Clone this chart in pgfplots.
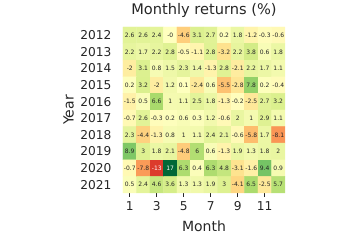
\documentclass[border=0pt]{standalone}
\usepackage{pgfplots}
\pgfplotsset{compat=1.18}
\usepackage{pgfplotstable}
\usepackage{fontspec}
\setmainfont{DejaVu Sans}
\definecolor{tk}{HTML}{262626}
\pgfplotstableread{
x y v
1 2012 2.6
2 2012 2.6
3 2012 2.4
4 2012 -0
5 2012 -4.6
6 2012 3.1
7 2012 2.7
8 2012 0.2
9 2012 1.8
10 2012 -1.2
11 2012 -0.3
12 2012 -0.6
1 2013 2.2
2 2013 1.7
3 2013 2.2
4 2013 2.8
5 2013 -0.5
6 2013 -1.1
7 2013 2.8
8 2013 -3.2
9 2013 2.2
10 2013 3.8
11 2013 0.6
12 2013 1.8
1 2014 -2
2 2014 3.1
3 2014 0.8
4 2014 1.5
5 2014 2.3
6 2014 1.4
7 2014 -1.3
8 2014 2.8
9 2014 -2.1
10 2014 2.2
11 2014 1.7
12 2014 1.1
1 2015 0.2
2 2015 3.2
3 2015 -2
4 2015 1.2
5 2015 0.1
6 2015 -2.4
7 2015 0.6
8 2015 -5.5
9 2015 -2.8
10 2015 7.8
11 2015 0.2
12 2015 -0.4
1 2016 -1.5
2 2016 0.5
3 2016 6.6
4 2016 1
5 2016 1.1
6 2016 2.5
7 2016 1.8
8 2016 -1.3
9 2016 -0.2
10 2016 -2.5
11 2016 2.7
12 2016 3.2
1 2017 -0.7
2 2017 2.6
3 2017 -0.3
4 2017 0.2
5 2017 0.6
6 2017 0.3
7 2017 1.2
8 2017 -0.6
9 2017 2
10 2017 1
11 2017 2.9
12 2017 1.1
1 2018 2.3
2 2018 -4.4
3 2018 -1.3
4 2018 0.8
5 2018 1
6 2018 1.1
7 2018 2.4
8 2018 2.1
9 2018 -0.6
10 2018 -5.8
11 2018 1.7
12 2018 -8.1
1 2019 8.9
2 2019 3
3 2019 1.8
4 2019 2.1
5 2019 -4.8
6 2019 6
7 2019 0.6
8 2019 -1.3
9 2019 1.9
10 2019 1.3
11 2019 1.8
12 2019 2
1 2020 -0.7
2 2020 -7.8
3 2020 -13
4 2020 17
5 2020 6.3
6 2020 0.4
7 2020 6.3
8 2020 4.8
9 2020 -3.1
10 2020 -1.6
11 2020 9.4
12 2020 0.9
1 2021 0.5
2 2021 2.4
3 2021 4.6
4 2021 3.6
5 2021 1.3
6 2021 1.3
7 2021 1.9
8 2021 3
9 2021 -4.1
10 2021 6.5
11 2021 -2.5
12 2021 5.7
}\data
\begin{document}
\begin{tikzpicture}[x=1pt,y=1pt]
\path[use as bounding box] (0,0) rectangle (360,240);
\begin{axis}[
  at={(123pt,47pt)}, anchor=south west,
  width=162pt, height=166pt, scale only axis,
  xmin=0.5, xmax=12.5, ymin=2011.5, ymax=2021.5,
  y dir=reverse,
  axis line style={draw=none},
  xtick={1,3,5,7,9,11},
  ytick={2012,2013,2014,2015,2016,2017,2018,2019,2020,2021},
  /pgf/number format/1000 sep={},
  /pgf/number format/assume math mode=true,
  tick align=outside,
  major tick length=4pt,
  x tick style={draw=tk, line width=0.6pt},
  y tick style={draw=none},
  xtick pos=bottom, ytick pos=left,
  ticklabel style={text=tk, font=\fontsize{12.2}{14}\selectfont},
  xticklabel style={yshift=-1pt},
  yticklabel style={xshift=-4pt},
  xlabel={Month}, ylabel={Year},
  label style={text=tk, font=\fontsize{14}{16}\selectfont},
  xlabel style={at={(axis description cs:0.5,0)}, anchor=base, yshift=-39pt},
  ylabel style={at={(axis description cs:-0.305,0.5)}, anchor=base},
  title={Monthly returns (\%)},
  title style={at={(0.5,1)}, anchor=base, yshift=6pt, text=tk, font=\fontsize{14.6}{17}\selectfont},
  colormap={rdylgn}{rgb255=(165,0,38) rgb255=(215,48,39) rgb255=(244,109,67) rgb255=(253,174,97) rgb255=(254,224,139) rgb255=(255,255,191) rgb255=(217,239,139) rgb255=(166,217,106) rgb255=(102,189,99) rgb255=(26,152,80) rgb255=(0,104,55)},
  point meta min=-17, point meta max=17,
  clip=false,
]
\addplot[matrix plot*, mesh/cols=12, point meta=explicit] table[x=x, y=y, meta=v]{\data};
\addplot[only marks, mark=text, text mark={},
  point meta=explicit symbolic,
  skip coords between index={98}{100},
  nodes near coords,
  nodes near coords style={anchor=center, inner sep=0pt, text=tk, font=\fontsize{6}{6.5}\selectfont}
] table[x=x, y=y, meta=v]{\data};
\addplot[only marks, mark=text, text mark={},
  point meta=explicit symbolic,
  nodes near coords,
  nodes near coords style={anchor=center, inner sep=0pt, text=white, font=\fontsize{6}{6.5}\selectfont}
] coordinates {(3,2020) [-13] (4,2020) [17]};
\end{axis}
\end{tikzpicture}
\end{document}
